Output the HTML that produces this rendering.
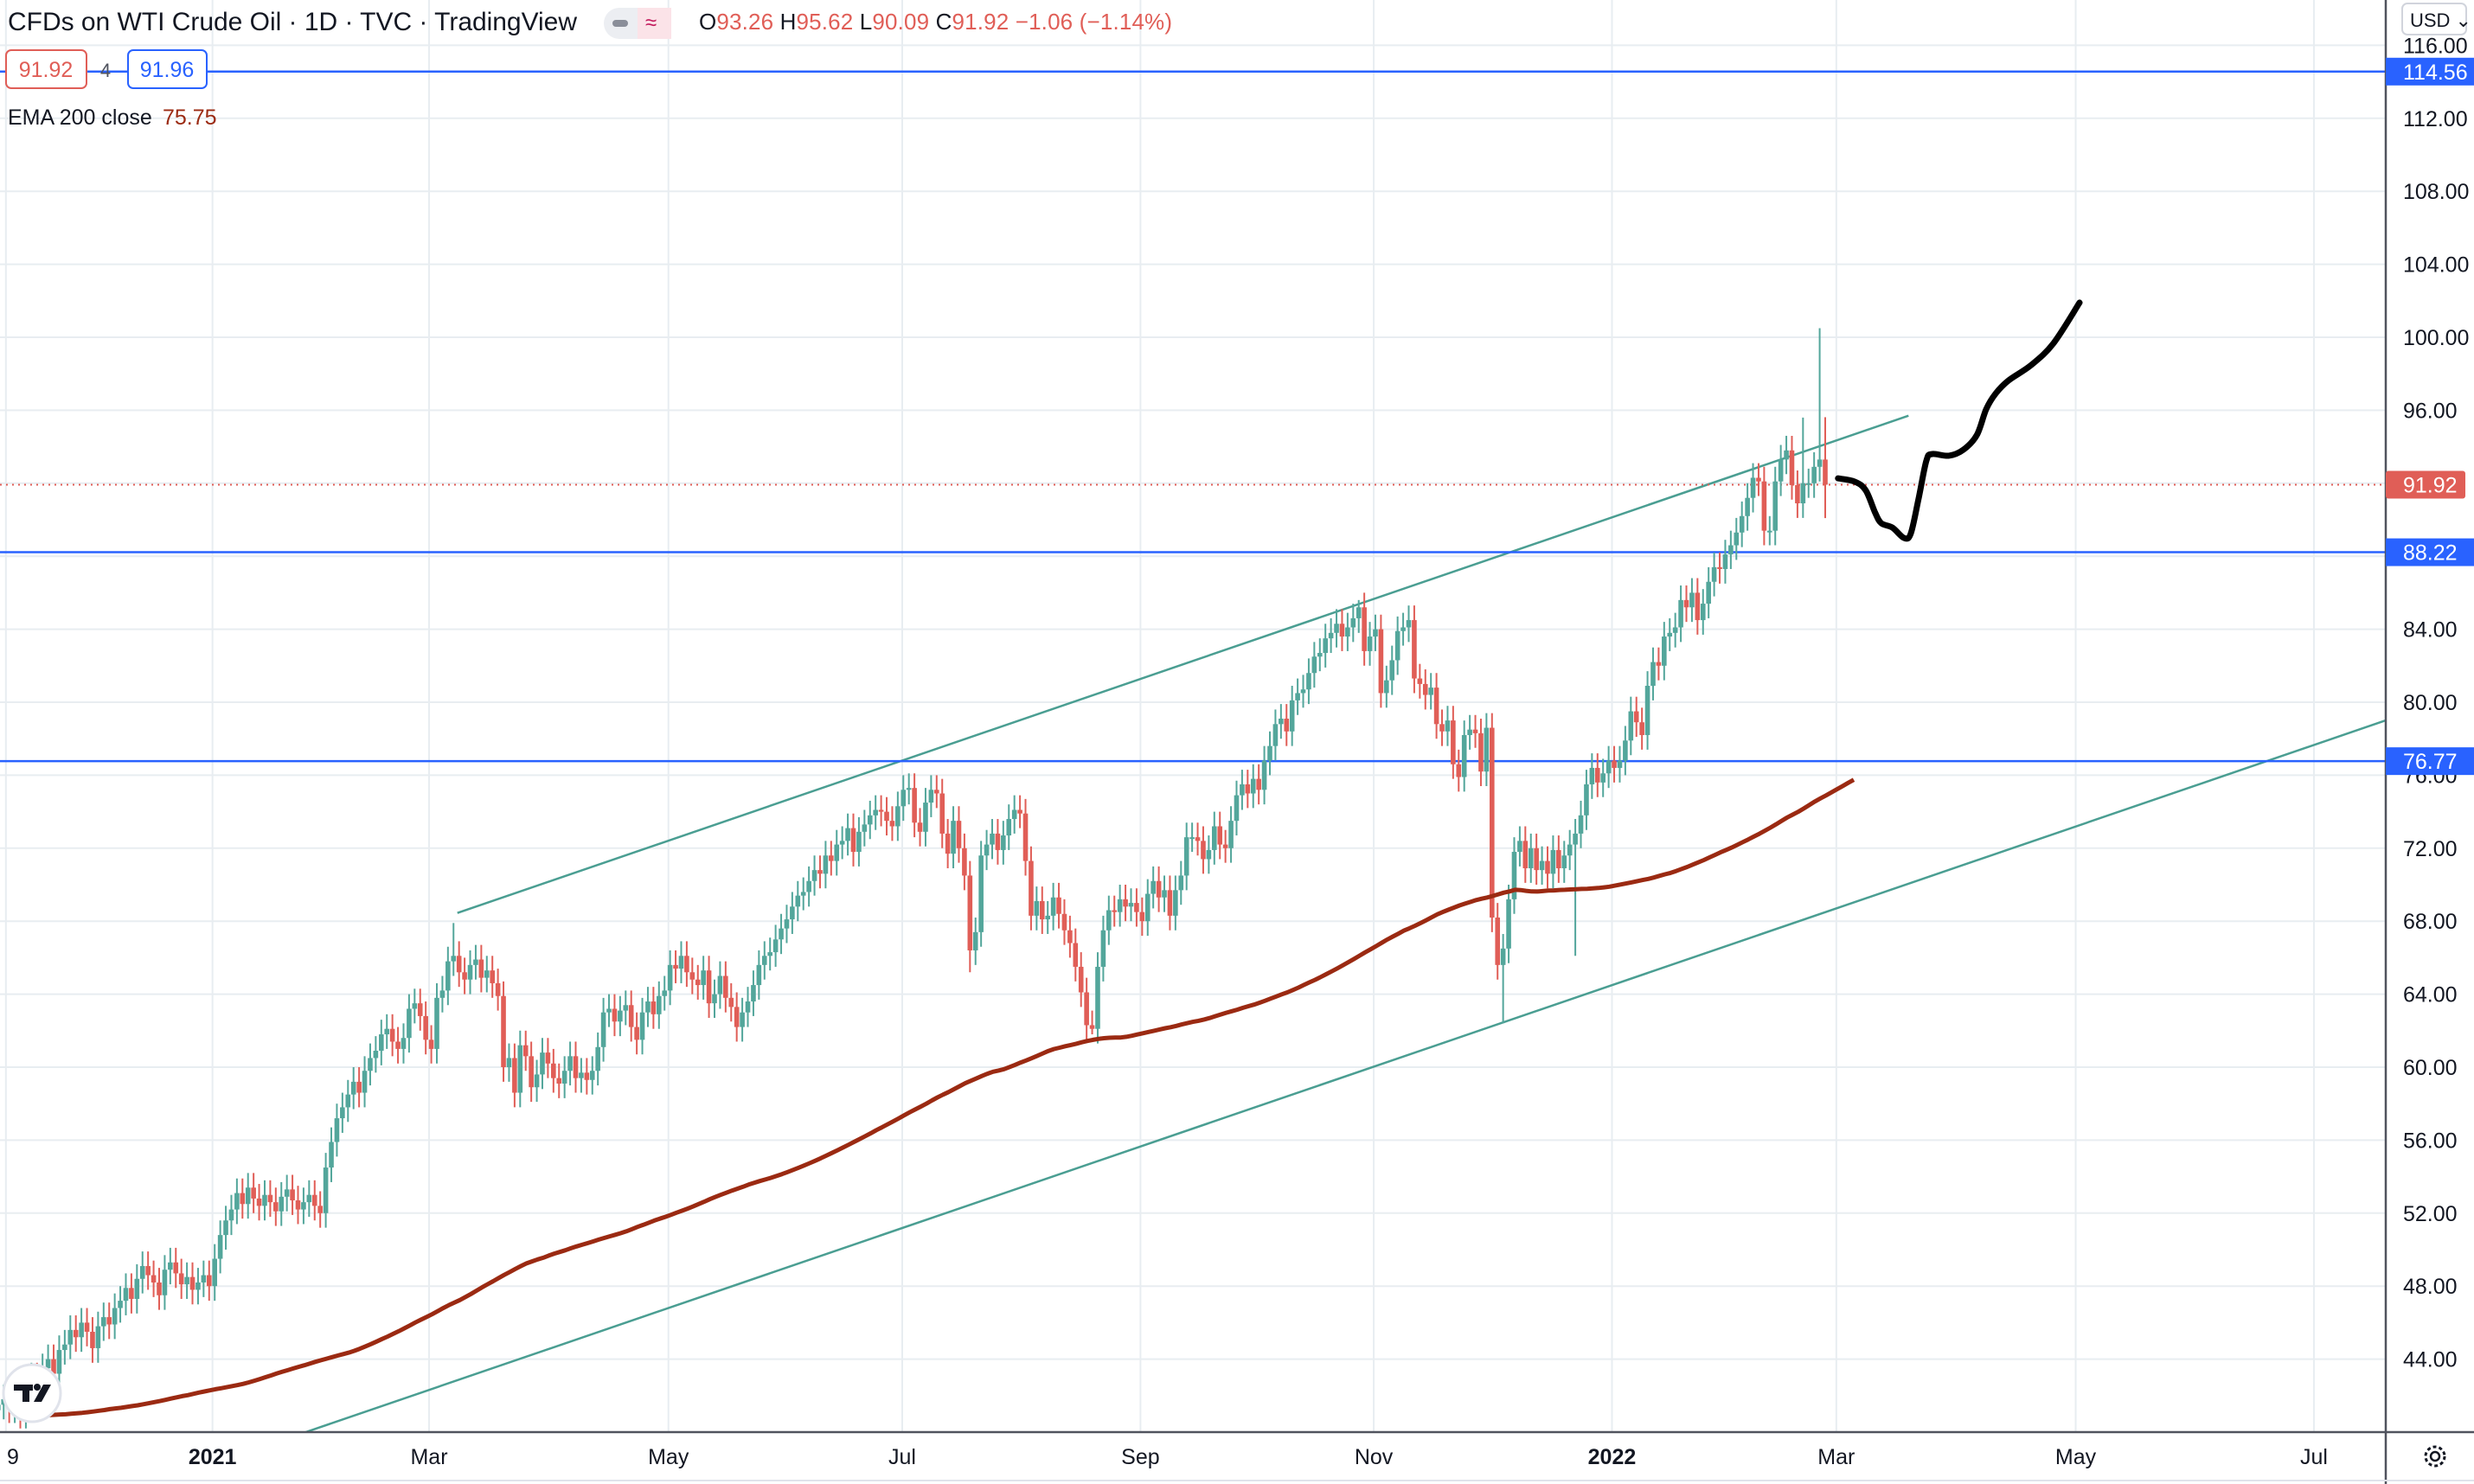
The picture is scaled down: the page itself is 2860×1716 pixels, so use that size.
<!DOCTYPE html>
<html><head><meta charset="utf-8"><style>
html,body{margin:0;padding:0;background:#fff;}
svg{display:block;font-family:"Liberation Sans",sans-serif;}
</style></head><body>
<svg id="chart" width="2860" height="1716" viewBox="0 0 2860 1716" xmlns="http://www.w3.org/2000/svg">
<rect x="0" y="0" width="2860" height="1716" fill="#ffffff"/>
<g id="grid"></g>
<g id="trend"></g>
<g id="hlines"></g>
<g id="candles"></g>
<g id="ema"></g>
<g id="drawing"></g>
<g id="axes"></g>
<g id="header">
  <text x="9" y="35" font-size="30" fill="#131722" textLength="658">CFDs on WTI Crude Oil · 1D · TVC · TradingView</text>
  <rect x="698" y="9" width="78" height="36" rx="18" fill="#eceef2"/>
  <rect x="737" y="9" width="39" height="36" rx="0" fill="#fbe3e8"/>
  <rect x="708" y="23" width="18" height="8" rx="4" fill="#8a8e99"/>
  <text x="746" y="34" font-size="24" fill="#c2185b">≈</text>
  <text x="808" y="34" font-size="26" fill="#131722" textLength="547">O<tspan fill="#e05e57">93.26</tspan> H<tspan fill="#e05e57">95.62</tspan> L<tspan fill="#e05e57">90.09</tspan> C<tspan fill="#e05e57">91.92</tspan> <tspan fill="#e05e57">−1.06 (−1.14%)</tspan></text>
</g>
<g id="overlay">
  <rect x="7" y="58" width="93" height="44" rx="6" fill="#fff" stroke="#e05e57" stroke-width="2"/>
  <text x="53" y="89" font-size="25" fill="#e05e57" text-anchor="middle">91.92</text>
  <text x="122" y="89" font-size="22" fill="#50535e" text-anchor="middle">4</text>
  <rect x="148" y="58" width="91" height="44" rx="6" fill="#fff" stroke="#2962ff" stroke-width="2"/>
  <text x="193" y="89" font-size="25" fill="#2962ff" text-anchor="middle">91.96</text>
  <text x="9" y="144" font-size="25" fill="#131722">EMA 200 close</text>
  <text x="188" y="144" font-size="25" fill="#9b2a12">75.75</text>
</g>
</svg>
<script>
const closes=[41.5,41.8,41.3,42.0,41.0,42.5,43.0,42.2,43.5,44.0,43.2,44.5,44.8,
45.6,45.2,46.0,45.5,44.6,45.8,46.3,45.9,46.8,47.2,
47.9,47.3,48.4,49.1,48.6,48.2,47.5,48.9,49.3,48.7,48.1,48.5,47.8,48.2,48.6,48.0,
49.5,50.8,51.6,52.2,53.1,52.5,53.4,52.8,52.4,53.0,52.6,52.1,52.9,53.3,52.7,52.2,52.6,53.0,52.4,52.0,
54.5,55.9,57.2,57.8,58.5,59.2,58.6,59.8,60.5,60.9,61.8,62.1,61.4,61.0,61.6,63.2,63.5,62.8,61.5,
61.0,63.8,64.2,65.8,66.1,65.2,64.8,65.6,65.9,64.9,65.3,64.6,63.9,60.0,60.5,58.6,61.2,60.6,58.9,59.6,60.8,60.2,59.4,
59.1,59.8,60.6,59.4,59.7,59.3,59.8,61.1,63.0,63.2,62.5,63.1,63.4,62.2,61.5,63.0,63.6,62.9,63.9,64.2,
65.6,65.4,66.1,65.2,64.8,64.5,65.3,63.5,64.0,65.0,63.8,63.3,62.2,63.0,63.6,64.5,65.6,66.1,66.3,67.0,
67.6,68.1,68.8,69.4,69.6,70.2,70.8,70.6,71.6,71.3,72.2,72.4,73.1,71.8,72.9,73.3,73.8,74.1,74.0,73.5,73.2,74.3,
75.2,75.3,73.4,72.9,74.5,75.2,75.0,72.8,71.7,73.5,72.0,70.5,66.4,67.4,71.6,72.2,72.8,71.9,72.7,73.6,74.1,
73.9,71.3,68.3,69.1,68.1,68.3,69.3,68.4,67.5,66.8,65.5,64.1,62.3,62.1,65.5,67.5,68.6,68.5,69.2,68.8,69.0,68.5,
68.0,69.5,70.2,69.3,69.7,68.3,69.7,70.5,72.6,72.6,72.4,71.4,71.9,73.2,72.2,72.0,73.5,74.9,75.5,75.0,75.8,
75.2,76.8,77.6,78.8,79.1,78.4,80.1,80.5,80.7,81.6,82.5,82.7,83.5,83.8,84.3,83.6,84.1,84.6,85.2,82.8,83.6,
84.0,80.5,81.2,82.3,83.9,84.1,84.5,81.3,81.0,80.4,80.8,78.8,78.4,79.0,76.6,75.9,78.2,78.5,78.3,76.2,78.6,68.2,
65.6,66.5,69.2,71.8,72.4,70.9,72.0,70.8,71.3,70.6,71.9,70.9,71.6,72.2,72.8,73.8,75.5,76.4,75.6,76.1,76.8,
76.4,76.8,77.9,79.5,78.9,78.2,80.9,82.2,82.0,83.6,83.8,84.1,85.6,85.2,86.0,84.5,85.4,86.6,87.4,87.3,
88.1,88.6,89.3,90.2,91.2,92.3,92.1,89.4,89.4,92.1,93.3,93.8,91.9,90.9,92.0,92.0,92.9,93.3,91.92];
const spikeIdx=[82,175,197,245,271,284,325,328,329];
const spikeHigh=[67.9,null,null,85.6,null,null,95.6,100.5,95.62];
const spikeLow=[null,65.2,61.8,null,62.4,66.1,null,null,90.09];
const priceTicks=[44,48,52,56,60,64,68,72,76,80,84,88,92,96,100,104,108,112,116];
const timeLabels=["9","2021","Mar","May","Jul","Sep","Nov","2022","Mar","May","Jul"];
const timeBars=[1.4,38.6,77.6,120.7,162.8,205.7,247.7,290.6,331,374.1,417];
const timeBold=[false,true,false,false,false,false,false,true,false,false,false];
const hLevels=[114.56,88.22,76.77];
const trendBarsA=[82.7,344];const trendPricesA=[68.45,95.7];
const trendBarsB=[55.4,429.9];const trendPricesB=[40.0,79.0];
const drawBars=[331.3,334.3,336.3,338.0,339.1,341.1,343.2,344.4,345.8,347.2,348.2,351.3,353.9,356.3,358.0,359.7,362.0,366.1,370.1,374.8];
const drawPrices=[92.27,92.09,91.61,90.38,89.81,89.57,89.0,89.24,91.14,93.22,93.6,93.51,93.84,94.64,96.07,96.92,97.63,98.48,99.67,101.9];
const lastPrice=91.92;
const emaSeed=40.9;

const NS="http://www.w3.org/2000/svg";
const PLOT_R=2758, PLOT_B=1656;
const LAST=329;
function y(p){return 390+(100-p)*21.1;}
function xb(b){return 2110-(LAST-b)*6.42;}
function xi(i){return 2110-(closes.length-1-i)*6.42;}
function mk(tag,attrs,parent){const e=document.createElementNS(NS,tag);for(const k in attrs)e.setAttribute(k,attrs[k]);parent.appendChild(e);return e;}

const grid=document.getElementById('grid');
priceTicks.forEach(p=>{
  const l=mk('line',{x1:0,x2:PLOT_R,y1:y(p),y2:y(p),stroke:'#e8edf1','stroke-width':2},grid);
  
  
});
timeBars.forEach(b=>{
  const l=mk('line',{x1:xb(b),x2:xb(b),y1:0,y2:PLOT_B,stroke:'#e8edf1','stroke-width':2},grid);
  
  
});

const trend=document.getElementById('trend');
[[trendBarsA,trendPricesA,'upper-channel-line'],[trendBarsB,trendPricesB,'lower-channel-line']].forEach(t=>{
  const l=mk('line',{x1:xb(t[0][0]),y1:y(t[1][0]),x2:xb(t[0][1]),y2:y(t[1][1]),stroke:'#4a9e92','stroke-width':2.5},trend);
  
  
});

const hl=document.getElementById('hlines');
hLevels.forEach(v=>{
  const l=mk('line',{x1:0,x2:PLOT_R,y1:y(v),y2:y(v),stroke:'#2962ff','stroke-width':2.5},hl);
  
  
});
const lp=mk('line',{x1:0,x2:PLOT_R,y1:y(lastPrice),y2:y(lastPrice),stroke:'#e05e57','stroke-width':2,'stroke-dasharray':'2 5'},hl);



const cg=document.getElementById('candles');
for(let i=0;i<closes.length;i++){
  const c=closes[i];const o=i>0?closes[i-1]:c-0.3;
  let h=Math.max(o,c)+0.8, lo=Math.min(o,c)-0.8;
  const k=spikeIdx.indexOf(i);
  if(k>=0){if(spikeHigh[k]!=null)h=spikeHigh[k];if(spikeLow[k]!=null)lo=spikeLow[k];}
  const up=c>=o;const col=up?'#53a69b':'#e05e57';
  const x=xi(i);
  const g=mk('g',{},cg);
  
  
  mk('line',{x1:x,x2:x,y1:y(h),y2:y(lo),stroke:col,'stroke-width':2},g);
  const top=y(Math.max(o,c)),bot=y(Math.min(o,c));
  mk('rect',{x:x-2.8,y:top,width:5.6,height:Math.max(2,bot-top),fill:col},g);
}

const eg=document.getElementById('ema');
let e=emaSeed;const a=2/201;let pts=[];
for(let i=0;i<closes.length;i++){e=e+a*(closes[i]-e);pts.push((xi(i)+33).toFixed(1)+','+y(e).toFixed(1));}
const ep=mk('polyline',{points:pts.join(' '),fill:'none',stroke:'#9b2a12','stroke-width':5,'stroke-linejoin':'round'},eg);



const dg=document.getElementById('drawing');
const dp=drawBars.map((b,i)=>[xb(b),y(drawPrices[i])]);
let d='M'+dp[0][0]+','+dp[0][1];
for(let i=0;i<dp.length-1;i++){
  const p0=dp[Math.max(0,i-1)],p1=dp[i],p2=dp[i+1],p3=dp[Math.min(dp.length-1,i+2)];
  const c1=[p1[0]+(p2[0]-p0[0])/6,p1[1]+(p2[1]-p0[1])/6],c2=[p2[0]-(p3[0]-p1[0])/6,p2[1]-(p3[1]-p1[1])/6];
  d+=' C'+c1.join(',')+' '+c2.join(',')+' '+p2.join(',');
}
const dpath=mk('path',{d:d,fill:'none',stroke:'#000','stroke-width':7,'stroke-linecap':'round','stroke-linejoin':'round'},dg);



const ax=document.getElementById('axes');
mk('rect',{x:PLOT_R,y:0,width:102,height:1716,fill:'#fff'},ax);
mk('rect',{x:0,y:PLOT_B,width:PLOT_R,height:60,fill:'#fff'},ax);
mk('line',{x1:PLOT_R,x2:PLOT_R,y1:0,y2:1716,stroke:'#50535e','stroke-width':2.5},ax);
mk('line',{x1:0,x2:2860,y1:PLOT_B,y2:PLOT_B,stroke:'#50535e','stroke-width':2.5},ax);
mk('line',{x1:0,x2:2860,y1:1712,y2:1712,stroke:'#e0e3eb','stroke-width':2},ax);
priceTicks.forEach(p=>{
  const t=mk('text',{x:2778,y:y(p)+9,'font-size':25,fill:'#131722'},ax);
  t.textContent=p.toFixed(2);
  
  
});
timeLabels.forEach((s,i)=>{
  const t=mk('text',{x:xb(timeBars[i]),y:1693,'font-size':25,fill:'#131722','text-anchor':'middle','font-weight':timeBold[i]?'bold':'normal'},ax);
  if(i===0)t.setAttribute('x',15);
  t.textContent=s;
  
  
});
hLevels.forEach(v=>{
  const r=mk('rect',{x:PLOT_R,y:y(v)-16,width:102,height:32,fill:'#2962ff'},ax);
  
  
  const t=mk('text',{x:2778,y:y(v)+9,'font-size':25,fill:'#fff'},ax);
  t.textContent=v.toFixed(2);
  
  
});
const lr=mk('rect',{x:PLOT_R,y:y(lastPrice)-16,width:92,height:32,rx:3,fill:'#e05e57'},ax);


const lt=mk('text',{x:2778,y:y(lastPrice)+9,'font-size':25,fill:'#fff'},ax);
lt.textContent=lastPrice.toFixed(2);


const ub=mk('rect',{x:2777,y:4,width:74,height:36,rx:6,fill:'#fff',stroke:'#d1d4dc','stroke-width':2},ax);


const ut=mk('text',{x:2786,y:31,'font-size':22,fill:'#131722'},ax);
ut.textContent='USD ⌄';


const gear=mk('g',{},ax);


mk('circle',{cx:2815,cy:1684,r:11,fill:'none',stroke:'#131722','stroke-width':3,'stroke-dasharray':'4 3'},gear);
mk('circle',{cx:2815,cy:1684,r:5,fill:'none',stroke:'#131722','stroke-width':2.5},gear);
const logo=mk('g',{},ax);


mk('circle',{cx:37,cy:1611,r:33,fill:'#fff',stroke:'#e0e3eb','stroke-width':3},logo);
mk('rect',{x:16,y:1601,width:22,height:7,fill:'#131722'},logo);
mk('rect',{x:26,y:1601,width:8,height:20,fill:'#131722'},logo);
mk('circle',{cx:43,cy:1604,r:4,fill:'#131722'},logo);
mk('polygon',{points:'50,1601 59,1601 48,1621 39,1621',fill:'#131722'},logo);
</script>
</body></html>
